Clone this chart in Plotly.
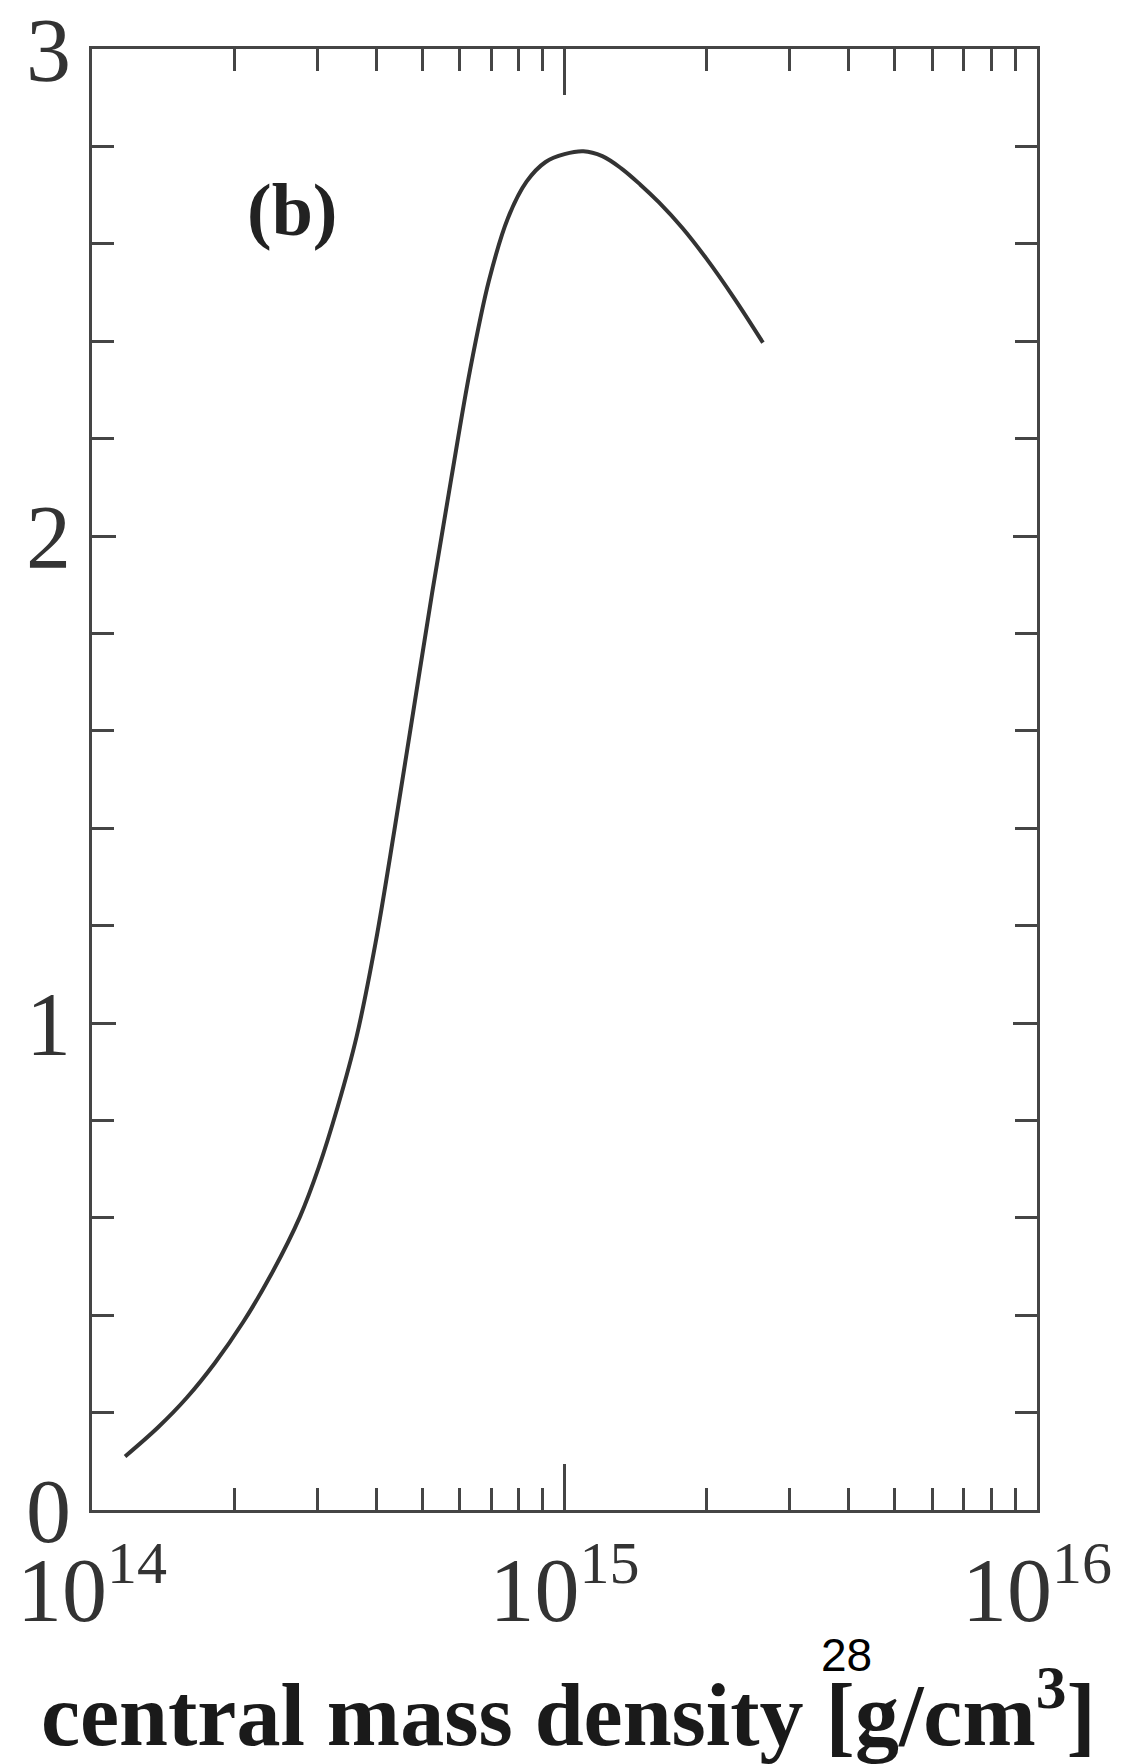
import plotly.graph_objects as go

# log10 of central mass density [g/cm^3] and the plotted quantity
log_rho = [14.07, 14.14, 14.20, 14.26, 14.32, 14.38, 14.44, 14.48, 14.52, 14.56,
           14.60, 14.64, 14.68, 14.72, 14.76, 14.80, 14.84, 14.88, 14.92, 14.96,
           15.00, 15.04, 15.08, 15.12, 15.16, 15.20, 15.25, 15.30, 15.36, 15.42]
y_vals = [0.11, 0.17, 0.23, 0.302, 0.386, 0.485, 0.602, 0.704, 0.828, 0.972,
          1.164, 1.396, 1.64, 1.884, 2.116, 2.34, 2.524, 2.652, 2.728, 2.768,
          2.784, 2.79, 2.78, 2.755, 2.722, 2.685, 2.632, 2.57, 2.487, 2.397]
rho = [10 ** v for v in log_rho]

x_tickvals = [1e14, 1e15, 1e16]
x_exps = ["14", "15", "16"]
x_minor = [m * 10 ** e for e in (14, 15) for m in range(2, 10)]
y_tickvals = [0, 1, 2, 3]
y_ticktext = ["0", "1", "2", "3"]

x_ticktext = ["10<sup><span style='font-size:60px'>%s</span></sup>" % e for e in x_exps]

AX = "#454545"
SERIF = "Liberation Serif"

fig = go.Figure()
fig.add_trace(go.Scatter(x=rho, y=y_vals, mode="lines",
                         line=dict(color="#333333", width=4, shape="spline", smoothing=1.0),
                         showlegend=False, hoverinfo="skip"))

fig.update_layout(
    template="none",
    width=1137, height=1764,
    margin=dict(l=92, r=100, t=49, b=254),
    paper_bgcolor="white", plot_bgcolor="white",
    xaxis=dict(type="log", range=[14, 16], showgrid=False, zeroline=False, automargin=False,
               showline=True, linecolor=AX, linewidth=3, mirror="ticks",
               ticks="inside", ticklen=46, tickwidth=3, tickcolor=AX,
               tickvals=x_tickvals, ticktext=x_ticktext, ticklabeloverflow="allow",
               tickfont=dict(family=SERIF, size=90, color="#333333"),
               minor=dict(tickvals=x_minor, ticks="inside", ticklen=22,
                          tickwidth=3, tickcolor=AX, showgrid=False)),
    yaxis=dict(range=[0, 3], showgrid=False, zeroline=False, automargin=False,
               showline=True, linecolor=AX, linewidth=3, mirror="ticks",
               ticks="inside", ticklen=24, tickwidth=3, tickcolor=AX,
               tickvals=y_tickvals, ticktext=y_ticktext, ticklabeloverflow="allow",
               tickfont=dict(family=SERIF, size=90, color="#333333"),
               minor=dict(dtick=0.2, ticks="inside", ticklen=22,
                          tickwidth=3, tickcolor=AX, showgrid=False)),
    annotations=[
        dict(text="<b>(b)</b>", xref="paper", yref="paper", x=0.212, y=0.890,
             showarrow=False, font=dict(family=SERIF, size=74, color="#222222"),
             xanchor="center", yanchor="middle"),
        dict(text="<b>central mass density [g/cm<sup>3</sup>]</b>", xref="paper", yref="paper",
             x=0.504, y=-0.136, showarrow=False,
             font=dict(family=SERIF, size=88, color="#1a1a1a"),
             xanchor="center", yanchor="middle"),
        dict(text="28", xref="paper", yref="paper", x=0.798, y=-0.099,
             showarrow=False, font=dict(family="Liberation Sans", size=46, color="black"),
             xanchor="center", yanchor="middle"),
    ],
)

fig.write_html("out.html")
